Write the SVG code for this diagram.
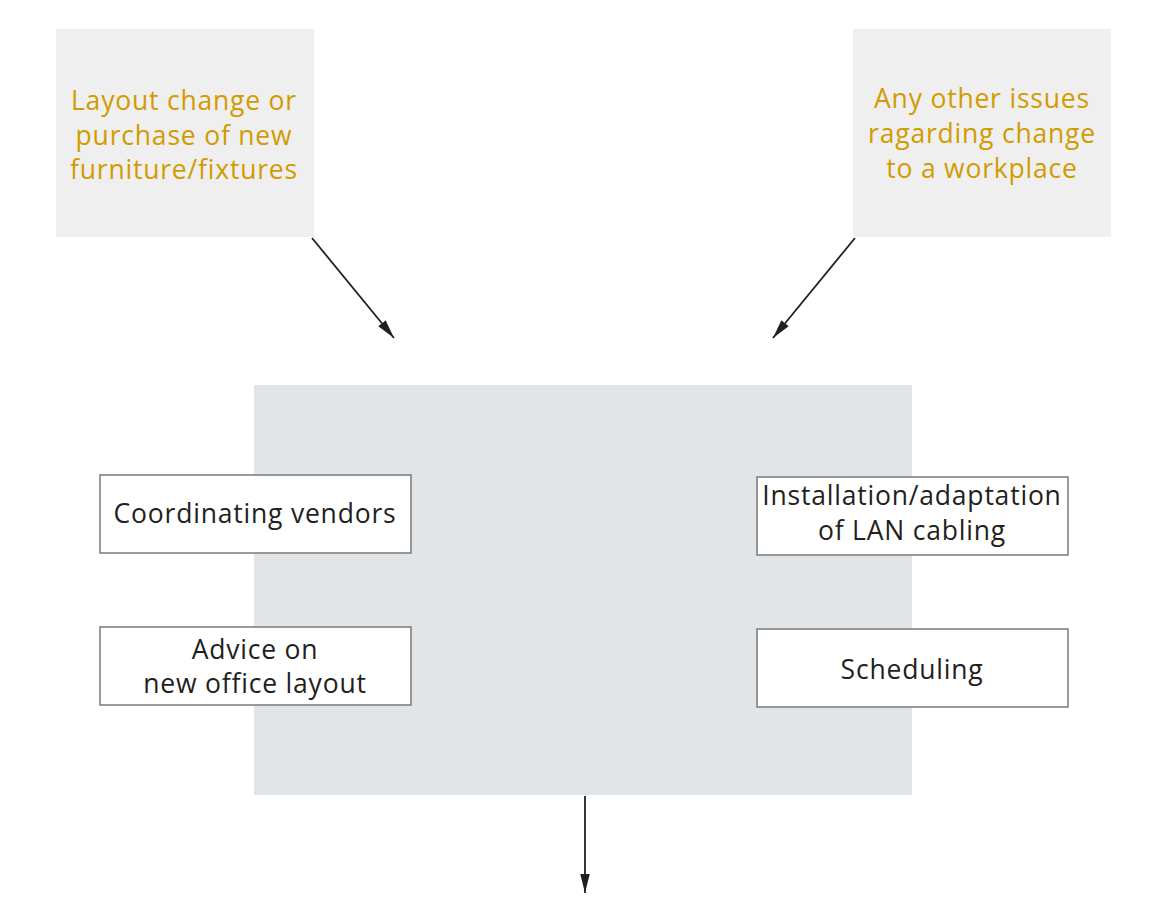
<svg xmlns="http://www.w3.org/2000/svg" width="1170" height="900" viewBox="0 0 1170 900">
<defs>
<style>
.src{fill:#eeefee}
.main{fill:#e2e5e8}
.item{fill:#ffffff;stroke:#7a7a7a;stroke-width:1.5}
.ot{font-family:"Open Sans","Noto Sans",sans-serif;font-size:26.5px;fill:#d29b00;text-anchor:middle;letter-spacing:0.8px}
.dt{font-family:"Open Sans","Noto Sans",sans-serif;font-size:26.5px;fill:#231f20;text-anchor:middle;letter-spacing:0.8px}
.conn{stroke:#231f20;stroke-width:1.8;fill:none}
</style>
<marker id="ah2" viewBox="0 0 20 10" refX="20" refY="5" markerWidth="19" markerHeight="10" markerUnits="userSpaceOnUse" orient="auto">
<path d="M0,0 L20,5 L0,10 Z" fill="#231f20"/>
</marker>
</defs>
<g id="main">
<rect class="main" x="254" y="385" width="658" height="410"/>
</g>
<g id="src1">
<rect class="src" x="56" y="29" width="258" height="208"/>
<text class="ot" x="184" y="110">Layout change or</text>
<text class="ot" x="184" y="145">purchase of new</text>
<text class="ot" x="184" y="179">furniture/fixtures</text>
</g>
<g id="src2">
<rect class="src" x="853" y="29" width="258" height="208"/>
<text class="ot" x="982" y="108">Any other issues</text>
<text class="ot" x="982" y="143">ragarding change</text>
<text class="ot" x="982" y="178">to a workplace</text>
</g>
<g id="n1">
<rect class="item" x="100" y="475" width="311" height="78"/>
<text class="dt" x="255" y="523">Coordinating vendors</text>
</g>
<g id="n2">
<rect class="item" x="100" y="627" width="311" height="78"/>
<text class="dt" x="255" y="659">Advice on</text>
<text class="dt" x="255" y="693">new office layout</text>
</g>
<g id="n3">
<rect class="item" x="757" y="477" width="311" height="78"/>
<text class="dt" x="912" y="505">Installation/adaptation</text>
<text class="dt" x="912" y="540">of LAN cabling</text>
</g>
<g id="n4">
<rect class="item" x="757" y="629" width="311" height="78"/>
<text class="dt" x="912" y="679">Scheduling</text>
</g>
<g id="connectors">
<line class="conn" x1="312" y1="238" x2="394" y2="338" marker-end="url(#ah2)"/>
<line class="conn" x1="855" y1="238" x2="773" y2="338" marker-end="url(#ah2)"/>
<line class="conn" x1="585" y1="796" x2="585" y2="893" marker-end="url(#ah2)"/>
</g>
</svg>
